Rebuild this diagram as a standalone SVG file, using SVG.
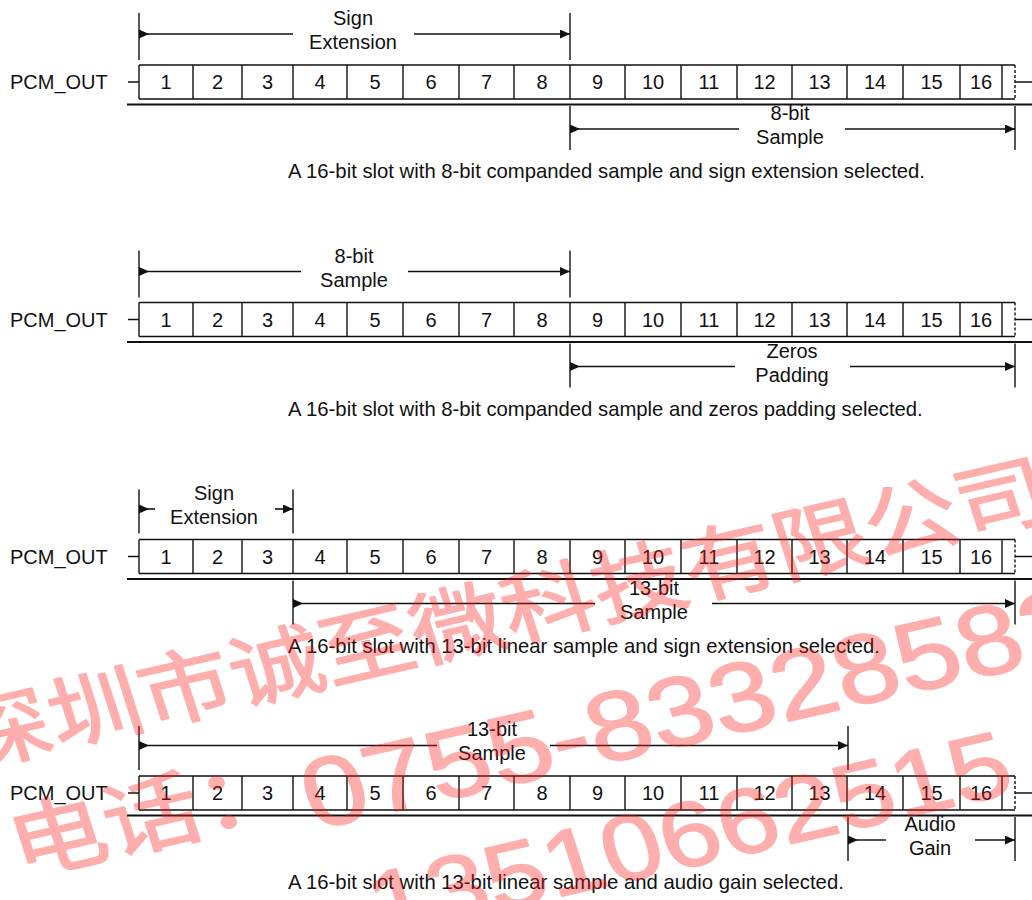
<svg xmlns="http://www.w3.org/2000/svg" width="1032" height="900" viewBox="0 0 1032 900">
<defs>
<style>
.t{font-family:"Liberation Sans",Arial,sans-serif;font-size:20px;fill:#111}
.cap{font-size:20.3px}
.c{text-anchor:middle}
.box{stroke:#111;stroke-width:1.4;fill:none}
.ul{stroke:#111;stroke-width:2;fill:none}
.dim{stroke:#111;stroke-width:1.4;fill:none}
.ar{stroke:#111;stroke-width:1.6;fill:none}
.dash{stroke:#111;stroke-width:1.4;stroke-dasharray:3 2;fill:none}
.wm{font-family:"Liberation Sans","Noto Sans CJK SC",sans-serif;fill:#ff1a1a;stroke:#ff1a1a;stroke-width:2;stroke-linejoin:round;opacity:0.35}
</style>
<marker id="hs" markerUnits="userSpaceOnUse" markerWidth="12" markerHeight="10" refX="0" refY="4.5" orient="auto"><path d="M0,0 L10,4.5 L0,9 z" fill="#111"/></marker>
<marker id="he" markerUnits="userSpaceOnUse" markerWidth="12" markerHeight="10" refX="10" refY="4.5" orient="auto"><path d="M0,0 L10,4.5 L0,9 z" fill="#111"/></marker>
<g id="slot">
<text class="t" x="10" y="89">PCM_OUT</text>
<path class="box" d="M128,82 H139 M139,65 H1015 M139,99 H1015 M139,65 V99 M193,65 V99 M242,65 V99 M293,65 V99 M347,65 V99 M403,65 V99 M459,65 V99 M514,65 V99 M570,65 V99 M625,65 V99 M681,65 V99 M737,65 V99 M792,65 V99 M847,65 V99 M903,65 V99 M960,65 V99 M1002,65 V99 M1015,82 H1032"/>
<path class="dash" d="M1015,65 V99"/>
<path class="ul" d="M127,104.5 H1032"/>
<g class="t c">
<text x="166" y="89">1</text><text x="217.5" y="89">2</text><text x="267.5" y="89">3</text><text x="320" y="89">4</text>
<text x="375" y="89">5</text><text x="431" y="89">6</text><text x="486.5" y="89">7</text><text x="542" y="89">8</text>
<text x="597.5" y="89">9</text><text x="653" y="89">10</text><text x="709" y="89">11</text><text x="764.5" y="89">12</text>
<text x="819.5" y="89">13</text><text x="875" y="89">14</text><text x="931.5" y="89">15</text><text x="981" y="89">16</text>
</g>
</g>
</defs>

<g id="row1">
<use href="#slot"/>
<g id="row1-dims">
<path class="dim" d="M139,13 V60 M570,13 V60 M570,106 V150 M1015,106 V150"/>
<path class="ar" d="M139,34 H293" marker-start="url(#hs)"/>
<path class="ar" d="M414,34 H570" marker-end="url(#he)"/>
<path class="ar" d="M570,129 H739" marker-start="url(#hs)"/>
<path class="ar" d="M845,129 H1015" marker-end="url(#he)"/>
</g>
<text class="t c" x="353" y="25">Sign</text>
<text class="t c" x="353" y="49">Extension</text>
<text class="t c" x="790" y="120">8-bit</text>
<text class="t c" x="790" y="144">Sample</text>
<text class="t cap" x="288" y="178">A 16-bit slot with 8-bit companded sample and sign extension selected.</text>
</g>

<g id="row2" transform="translate(0,237.5)">
<use href="#slot"/>
<g id="row2-dims">
<path class="dim" d="M139,13 V60 M570,13 V60 M570,106 V150 M1015,106 V150"/>
<path class="ar" d="M139,34 H301" marker-start="url(#hs)"/>
<path class="ar" d="M408,34 H570" marker-end="url(#he)"/>
<path class="ar" d="M570,129 H735" marker-start="url(#hs)"/>
<path class="ar" d="M850,129 H1015" marker-end="url(#he)"/>
</g>
<text class="t c" x="354" y="25">8-bit</text>
<text class="t c" x="354" y="49">Sample</text>
<text class="t c" x="792" y="120">Zeros</text>
<text class="t c" x="792" y="144">Padding</text>
<text class="t cap" x="288" y="178">A 16-bit slot with 8-bit companded sample and zeros padding selected.</text>
</g>

<g id="row3" transform="translate(0,474.5)">
<use href="#slot"/>
<g id="row3-dims">
<path class="dim" d="M139,15 V59 M293,15 V59 M293,106 V150 M1015,106 V150"/>
<path class="ar" d="M139,34.5 H155" marker-start="url(#hs)"/>
<path class="ar" d="M275,34.5 H293" marker-end="url(#he)"/>
<path class="ar" d="M293,129 H595" marker-start="url(#hs)"/>
<path class="ar" d="M712,129 H1015" marker-end="url(#he)"/>
</g>
<text class="t c" x="214" y="25">Sign</text>
<text class="t c" x="214" y="49">Extension</text>
<text class="t c" x="654" y="120">13-bit</text>
<text class="t c" x="654" y="144">Sample</text>
<text class="t cap" x="288" y="178">A 16-bit slot with 13-bit linear sample and sign extension selected.</text>
</g>

<g id="row4" transform="translate(0,711)">
<use href="#slot"/>
<g id="row4-dims">
<path class="dim" d="M139,15 V59 M848,15 V59 M848,106 V150 M1015,106 V150"/>
<path class="ar" d="M139,34.5 H437" marker-start="url(#hs)"/>
<path class="ar" d="M550,34.5 H848" marker-end="url(#he)"/>
<path class="ar" d="M848,129 H886" marker-start="url(#hs)"/>
<path class="ar" d="M975,129 H1015" marker-end="url(#he)"/>
</g>
<text class="t c" x="492" y="25">13-bit</text>
<text class="t c" x="492" y="49">Sample</text>
<text class="t c" x="930" y="120">Audio</text>
<text class="t c" x="930" y="144">Gain</text>
<text class="t cap" x="288" y="178">A 16-bit slot with 13-bit linear sample and audio gain selected.</text>
</g>

<g id="watermark">
<text class="wm" font-size="94" transform="translate(-32,768) scale(1,0.85) rotate(-15.3)">深圳市诚至微科技有限公司</text>
<text class="wm" font-size="97" transform="translate(20,876) scale(1,0.85) rotate(-15.1)">电话：</text>
<text class="wm" font-size="115" transform="translate(314,830) scale(1,0.85) rotate(-15.1)">0755-83328582</text>
<text class="wm" font-size="108" transform="translate(380,938) scale(1,0.85) rotate(-15.1)">13510662515</text>
</g>
</svg>
